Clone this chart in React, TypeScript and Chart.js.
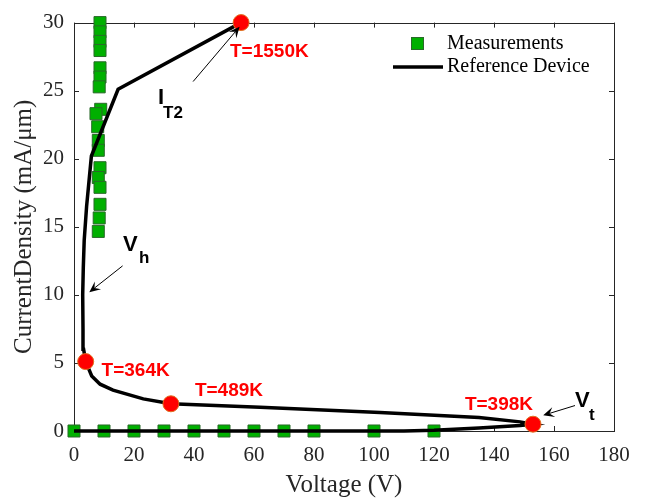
import React, { useEffect, useRef } from "react";
import { Chart, registerables } from "chart.js";

Chart.register(...registerables);

// ---- Data ----
const xTicks = [0, 20, 40, 60, 80, 100, 120, 140, 160, 180];
const yTicks = [0, 5, 10, 15, 20, 25, 30];

const measV = [8.67, 8.67, 8.67, 8.67, 8.67, 8.67, 8.4, 8.9, 7.33, 7.9, 8.1, 8.1, 8.67, 8.1, 8.67, 8.67, 8.4, 8.1,
  0, 10, 20, 30, 40, 50, 60, 70, 80, 100, 120];
const measJ = [30.0, 29.32, 28.62, 27.95, 26.68, 26.0, 25.28, 23.63, 23.31, 22.35, 21.34, 20.62, 19.34, 18.62, 17.9, 16.65, 15.65, 14.66,
  0, 0, 0, 0, 0, 0, 0, 0, 0, 0, 0];

const refV = [0, 10, 20, 30, 40, 50, 60, 70, 80, 100, 110, 120, 135, 148.7, 153,
  148.7, 135, 102, 62, 32.3, 23.1, 13, 8.7, 5.9, 3.9,
  3.2, 3.0, 2.9, 3.1, 3.4, 4.2, 5.8, 14.7, 55.7];
const refJ = [0, 0, 0, 0, 0, 0, 0, 0, 0, 0, 0, 0.05, 0.22, 0.4, 0.5,
  0.67, 1.0, 1.35, 1.75, 2.0, 2.36, 3.0, 3.44, 4.04, 5.1,
  6.0, 7.5, 10, 12, 14, 16.5, 20.2, 25.1, 30];

const hotV = [3.9, 32.3, 153, 55.7];
const hotJ = [5.1, 2.0, 0.5, 30];
const hotLabels = ["T=364K", "T=489K", "T=398K", "T=1550K"];

// ---- Annotation layout (data coordinates) ----
const LABEL_POS = [
  { x: 9.2, y: 4.4 },
  { x: 40.3, y: 2.96 },
  { x: 130.3, y: 1.91 },
  { x: 52, y: 27.87 },
];
const SYMBOLS = [
  { main: "I", sub: "T2", x: 28, y: 24.0, dx: 5, dy: 14 },
  { main: "V", sub: "h", x: 16.3, y: 13.2, dx: 16, dy: 12 },
  { main: "V", sub: "t", x: 167, y: 1.73, dx: 14, dy: 13 },
];
const ARROWS = [
  { x0: 39.7, y0: 25.67, x1: 55.2, y1: 29.7 },
  { x0: 16.2, y0: 12.13, x1: 5.1, y1: 10.2 },
  { x0: 167, y0: 1.87, x1: 156.4, y1: 1.15 },
];

const SERIF = '"Times New Roman", "Liberation Serif", serif';
const SANS = 'Arial, "Liberation Sans", sans-serif';
const AXIS_COLOR = "#262626";

const decorPlugin = {
  id: "decor",
  beforeDatasetsDraw(chart: any) {
    const { ctx, chartArea: a, scales } = chart;
    const xs = scales.x, ys = scales.y;
    ctx.save();
    ctx.strokeStyle = AXIS_COLOR;
    ctx.lineWidth = 1;
    ctx.beginPath();
    const tl = 5;
    xTicks.forEach((v) => {
      const px = Math.round(xs.getPixelForValue(v)) + 0.5;
      ctx.moveTo(px, a.bottom); ctx.lineTo(px, a.bottom - tl);
      ctx.moveTo(px, a.top); ctx.lineTo(px, a.top + tl);
    });
    yTicks.forEach((v) => {
      const py = Math.round(ys.getPixelForValue(v)) + 0.5;
      ctx.moveTo(a.left, py); ctx.lineTo(a.left + tl, py);
      ctx.moveTo(a.right, py); ctx.lineTo(a.right - tl, py);
    });
    ctx.stroke();
    ctx.strokeRect(Math.round(a.left) + 0.5, Math.round(a.top) + 0.5, Math.round(a.right - a.left), Math.round(a.bottom - a.top));
    ctx.restore();
  },
  afterDatasetsDraw(chart: any) {
    const { ctx, scales } = chart;
    const xs = scales.x, ys = scales.y;
    ctx.save();
    // red temperature labels
    ctx.fillStyle = "#ff0000";
    ctx.font = `bold 19px ${SANS}`;
    ctx.textBaseline = "middle";
    ctx.textAlign = "left";
    hotLabels.forEach((t, i) => {
      ctx.fillText(t, xs.getPixelForValue(LABEL_POS[i].x), ys.getPixelForValue(LABEL_POS[i].y));
    });
    // symbols
    ctx.fillStyle = "#000";
    ctx.textBaseline = "alphabetic";
    SYMBOLS.forEach((s) => {
      const px = xs.getPixelForValue(s.x), py = ys.getPixelForValue(s.y);
      ctx.font = `bold 22px ${SANS}`;
      ctx.fillText(s.main, px, py);
      ctx.font = `bold 17px ${SANS}`;
      ctx.fillText(s.sub, px + s.dx, py + s.dy);
    });
    // arrows
    ctx.strokeStyle = "#000";
    ctx.lineWidth = 1;
    ARROWS.forEach((ar) => {
      const x0 = xs.getPixelForValue(ar.x0), y0 = ys.getPixelForValue(ar.y0);
      const x1 = xs.getPixelForValue(ar.x1), y1 = ys.getPixelForValue(ar.y1);
      const ang = Math.atan2(y1 - y0, x1 - x0);
      const L = 11, W = 5;
      const bx = x1 - L * Math.cos(ang), by = y1 - L * Math.sin(ang);
      const nx = x1 - L * 0.6 * Math.cos(ang), ny = y1 - L * 0.6 * Math.sin(ang);
      ctx.beginPath();
      ctx.moveTo(x0, y0);
      ctx.lineTo(nx, ny);
      ctx.stroke();
      ctx.beginPath();
      ctx.moveTo(x1, y1);
      ctx.lineTo(bx + W * Math.sin(ang), by - W * Math.cos(ang));
      ctx.lineTo(nx, ny);
      ctx.lineTo(bx - W * Math.sin(ang), by + W * Math.cos(ang));
      ctx.closePath();
      ctx.fillStyle = "#000";
      ctx.fill();
    });
    // legend
    const lx = 417.5, ly1 = 43.5, ly2 = 67;
    ctx.fillStyle = "#00b000";
    ctx.strokeStyle = "#2a6a2a";
    ctx.lineWidth = 1;
    ctx.fillRect(lx - 6, ly1 - 6, 12, 12);
    ctx.strokeRect(lx - 6, ly1 - 6, 12, 12);
    ctx.strokeStyle = "#000";
    ctx.lineWidth = 3.5;
    ctx.beginPath();
    ctx.moveTo(393, ly2);
    ctx.lineTo(443, ly2);
    ctx.stroke();
    ctx.fillStyle = "#000";
    ctx.font = `20px ${SERIF}`;
    ctx.textBaseline = "middle";
    ctx.fillText("Measurements", 447, ly1);
    ctx.fillText("Reference Device", 447, ly2);
    ctx.restore();
  },
};

export default function App() {
  const ref = useRef<HTMLCanvasElement | null>(null);
  useEffect(() => {
    document.body.style.margin = "0";
    const canvas = ref.current!;
    const chart = new Chart(canvas, {
      type: "scatter",
      data: {
        datasets: [
          {
            label: "Measurements",
            data: measV.map((v, i) => ({ x: v, y: measJ[i] })),
            pointStyle: "rect",
            pointRadius: 8.5,
            backgroundColor: "#00b000",
            borderColor: "#2a6a2a",
            borderWidth: 1,
            showLine: false,
            clip: false,
            order: 3,
          },
          {
            label: "Reference Device",
            data: refV.map((v, i) => ({ x: v, y: refJ[i] })),
            showLine: true,
            pointRadius: 0,
            borderColor: "#000",
            borderWidth: 3.5,
            tension: 0,
            clip: false,
            order: 2,
          },
          {
            label: "Hot spots",
            data: hotV.map((v, i) => ({ x: v, y: hotJ[i] })),
            pointRadius: 8,
            backgroundColor: "#ff0000",
            borderColor: "#e07020",
            borderWidth: 1,
            showLine: false,
            clip: false,
            order: 1,
          },
        ],
      },
      options: {
        responsive: false,
        animation: false,
        layout: { padding: { top: 15, right: 32, left: 0, bottom: 0 } },
        plugins: { legend: { display: false }, tooltip: { enabled: false } },
        scales: {
          x: {
            type: "linear",
            min: 0,
            max: 180,
            afterFit: (s: any) => { s.height = 70; },
            afterBuildTicks: (s: any) => { s.ticks = xTicks.map((v) => ({ value: v })); },
            grid: { display: false, drawTicks: false },
            border: { display: false },
            ticks: { color: AXIS_COLOR, font: { family: SERIF, size: 21 }, padding: 12 },
            title: { display: true, text: "Voltage (V)", color: AXIS_COLOR, font: { family: SERIF, size: 25 }, padding: { top: 0, bottom: 1 } },
          },
          y: {
            type: "linear",
            min: 0,
            max: 30,
            afterFit: (s: any) => { s.width = 74; },
            afterBuildTicks: (s: any) => { s.ticks = yTicks.map((v) => ({ value: v })); },
            grid: { display: false, drawTicks: false },
            border: { display: false },
            ticks: { color: AXIS_COLOR, font: { family: SERIF, size: 21 }, padding: 10 },
            title: { display: true, text: "CurrentDensity (mA/μm)", color: AXIS_COLOR, font: { family: SERIF, size: 25 }, padding: { top: 9, bottom: 0 } },
          },
        },
      },
      plugins: [decorPlugin],
    } as any);
    return () => chart.destroy();
  }, []);
  return (
    <div style={{ position: "absolute", left: 0, top: 0, width: 646, height: 501, background: "#fff" }}>
      <canvas ref={ref} width={646} height={501} />
    </div>
  );
}
